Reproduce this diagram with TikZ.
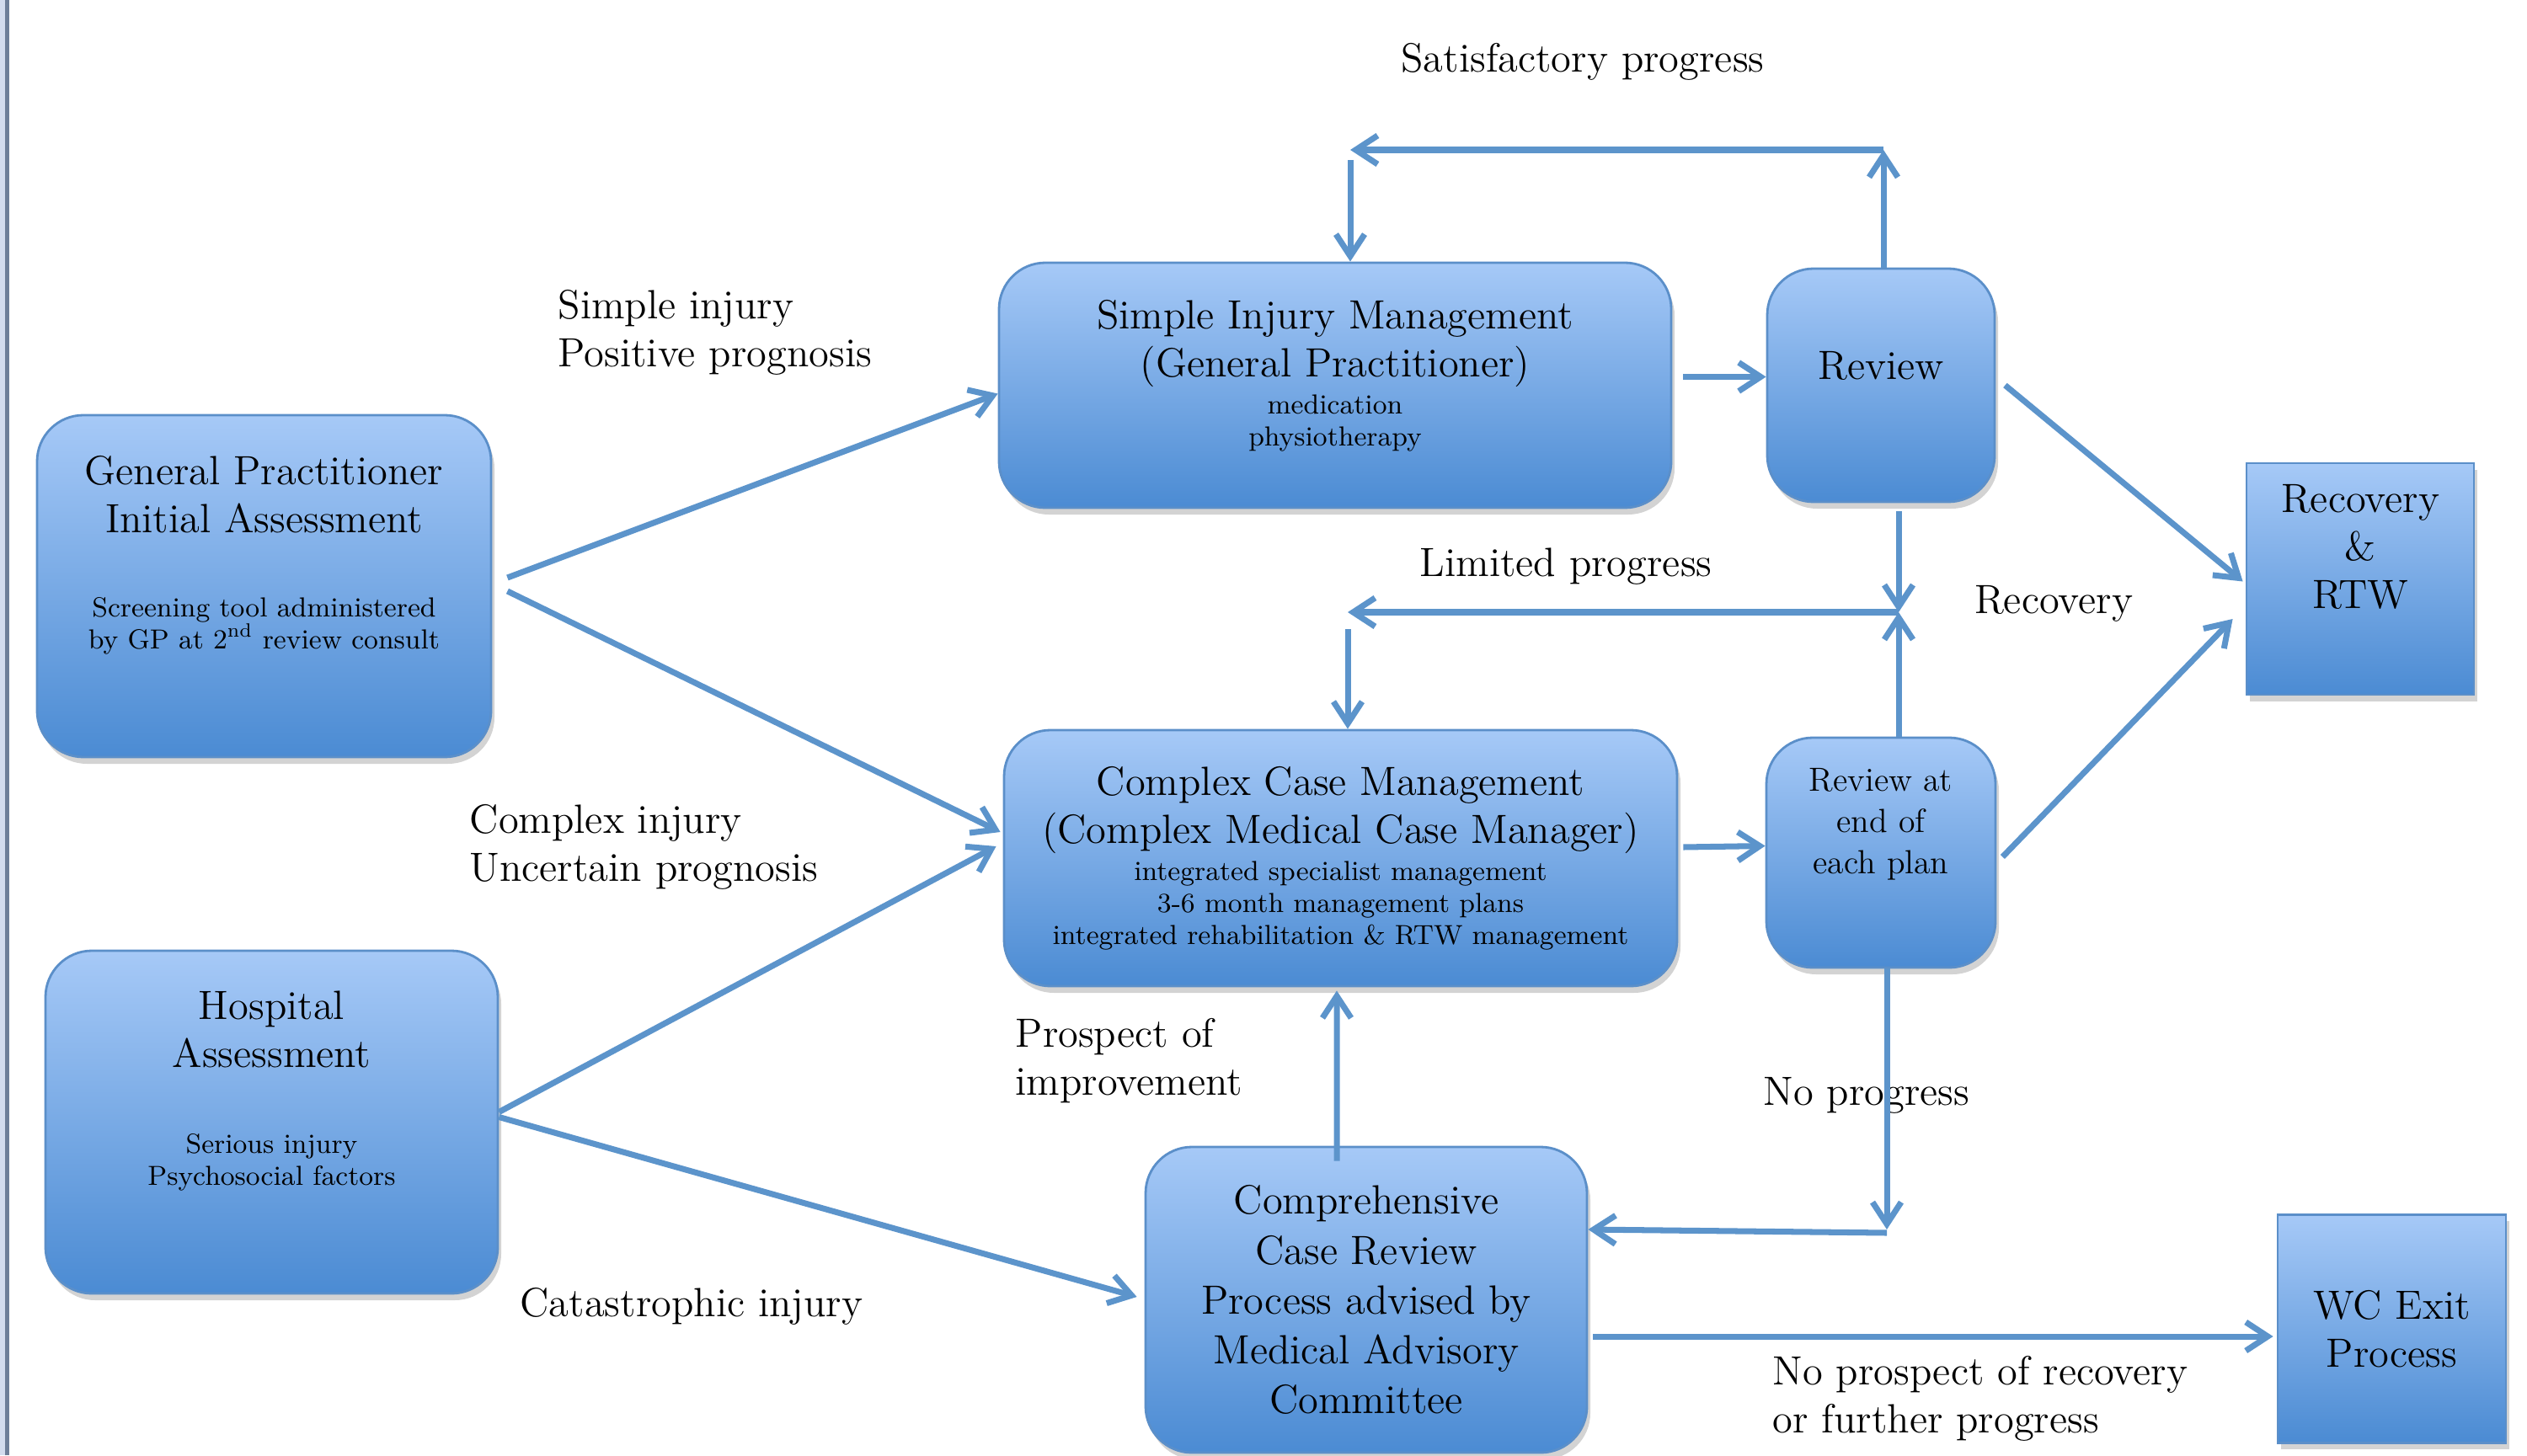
\documentclass[tikz,border=0pt]{standalone}
\usepackage{tikz}
\usetikzlibrary{arrows.meta,positioning,shadows,calc}

\definecolor{boxtop}{HTML}{A6C9F7}
\definecolor{boxbot}{HTML}{4B8BD3}
\definecolor{boxline}{HTML}{5B8FC9}
\definecolor{flowblue}{HTML}{5C94CB}
\definecolor{edgefill}{HTML}{D3DCEE}
\definecolor{edgeline}{HTML}{6E7F99}

\newcommand{\bigtxt}{\fontsize{13.8}{16.2}\selectfont}
\newcommand{\midtxt}{\fontsize{11.3}{13.9}\selectfont}
\newcommand{\smalltxt}{\fontsize{9.3}{10.8}\selectfont}

\begin{document}
\begin{tikzpicture}[
		on grid,
		> = {Straight Barb[length=2.6mm,width=3.4mm]},
		box/.style = {draw=boxline, thick, rounded corners=5.5mm,
			top color=boxtop, bottom color=boxbot, align=center, font=\bigtxt,
			drop shadow={opacity=0.35, shadow xshift=0.04cm, shadow yshift=-0.08cm}},
		sqbox/.style = {box, rounded corners=0pt},
		flow/.style = {->, color=flowblue, line width=2pt},
		lbl/.style = {font=\bigtxt, align=left, inner sep=0pt}
		]
		\useasboundingbox (0,0) rectangle (30,17.28);
		\fill[edgefill] (0,0) rectangle (0.075,17.28);
		\draw[edgeline, line width=0.5mm] (0.085,0) -- (0.085,17.28);

		% boxes
		\node[box, minimum width=5.39cm, minimum height=4.06cm] (gp) at (3.135,10.32)
			{General Practitioner\\Initial Assessment\\[4.3mm]\smalltxt Screening tool administered\\[-1.9mm]\smalltxt by GP at 2\textsuperscript{nd} review consult\\[2.4mm]\mbox{}};
		\node[box, minimum width=5.37cm, minimum height=4.07cm] (hosp) at (3.225,3.955)
			{Hospital\\Assessment\\[4.5mm]\smalltxt Serious injury\\[-1.9mm]\smalltxt Psychosocial factors\\[2.4mm]\mbox{}};
		\node[box, minimum width=7.98cm, minimum height=2.91cm] (simple) at (15.85,12.705)
			{Simple Injury Management\\(General Practitioner)\\[-1.3mm]\smalltxt medication\\[-1.9mm]\smalltxt physiotherapy\\[-2.8mm]\mbox{}};
		\node[box, minimum width=2.70cm, minimum height=2.77cm] (review) [right=6.48cm of simple] {Review\\[-1mm]\mbox{}};
		\node[box, minimum width=7.99cm, minimum height=3.04cm] (complex) at (15.915,7.09)
			{Complex Case Management\\(Complex Medical Case Manager)\\[-1.3mm]\smalltxt integrated specialist management\\[-1.9mm]\smalltxt 3-6 month management plans\\[-1.9mm]\smalltxt integrated rehabilitation \& RTW management};
		\node[box, minimum width=2.72cm, minimum height=2.73cm, font=\midtxt] (revend) [below=5.55cm of review]
			{Review at\\end of\\each plan\\[2.6mm]\mbox{}};
		\node[sqbox, minimum width=2.70cm, minimum height=2.75cm] (rtw) at (28.02,10.405)
			{Recovery\\\&\\RTW\\[2mm]\mbox{}};
		\node[box, minimum width=5.24cm, minimum height=3.63cm, font=\fontsize{13.8}{16.8}\selectfont] (comp) at (16.22,1.845)
			{Comprehensive\\Case Review\\Process advised by\\Medical Advisory\\Committee};
		\node[sqbox, minimum width=2.71cm, minimum height=2.71cm] (wcexit) at (28.395,1.5025)
			{WC Exit\\Process};

		% labels
		\node[lbl] (satlbl) at (18.79,16.55) {Satisfactory progress};
		\node[lbl, anchor=west] (simplelbl) at (6.62,13.33) {Simple injury\\Positive prognosis};
		\node[lbl] (limlbl) at (18.59,10.55) {Limited progress};
		\node[lbl] (reclbl) at (24.38,10.11) {Recovery};
		\node[lbl, anchor=west] (complexlbl) at (5.57,7.22) {Complex injury\\Uncertain prognosis};
		\node[lbl, anchor=west] (prosplbl) at (12.05,4.685) {Prospect of\\improvement};
		\node[lbl, anchor=west] (noproglbl) at (20.93,4.27) {No progress};
		\node[lbl] (catlbl) at (8.21,1.77) {Catastrophic injury};
		\node[lbl, anchor=west] (exitlbl) at (21.04,0.675) {No prospect of recovery\\or further progress};

		% loop points
		\coordinate (satR) at (22.36,15.50);
		\coordinate (satL) at (16.03,15.50);
		\coordinate (limR) at (22.54,10.01);
		\coordinate (limL) at (16.00,10.01);
		\coordinate (noP) at (22.40,2.68);
		\coordinate (exitY) at (0,1.41);

		% satisfactory progress loop
		\draw[flow] (review.north -| satR) -- (satR);
		\draw[flow] (satR) -- (satL);
		\draw[flow] ([yshift=-0.12cm]satL) -- (satL |- simple.north);

		% limited progress loop
		\draw[flow] ([yshift=-0.1cm]limR |- review.south) -- (limR);
		\draw[flow] (limR |- revend.north) -- (limR);
		\draw[flow] (limR) -- (limL);
		\draw[flow] ([yshift=-0.2cm]limL) -- (limL |- complex.north);

		% no progress
		\draw[flow] (revend.south -| noP) -- (noP);
		\draw[flow] ([yshift=-0.04cm]noP) -- (comp.east |- noP);

		\path[flow]
		([xshift=1.8mm,yshift=1mm]gp.east) edge ([yshift=-1mm]simple.west)
		([xshift=1.8mm,yshift=-0.6mm]gp.east) edge ([xshift=-0.3mm,yshift=3.1mm]complex.west)
		([yshift=1.2mm]hosp.east) edge ([xshift=-0.8mm,yshift=1.4mm]complex.west)
		([yshift=0.6mm]hosp.east) edge ([xshift=-0.9mm,yshift=0.35mm]comp.west)
		([xshift=1.3mm,yshift=1mm]simple.east) edge ([yshift=1mm]review.west)
		([xshift=0.6mm,yshift=1.3mm]complex.east) edge ([yshift=0.8mm]revend.west)
		([xshift=1.1mm]review.east) edge ([xshift=-0.3mm,yshift=-0.3mm]rtw.west)
		([xshift=0.7mm,yshift=-0.5mm]revend.east) edge ([xshift=-1.5mm,yshift=-4.75mm]rtw.west)
		([xshift=-3.5mm,yshift=-1.8mm]comp.north) edge ([xshift=-0.45mm,yshift=-0.4mm]complex.south)
		($(comp.east |- exitY)+(0.06,0)$) edge ($(wcexit.west |- exitY)+(-0.04,0)$);
\end{tikzpicture}
\end{document}
